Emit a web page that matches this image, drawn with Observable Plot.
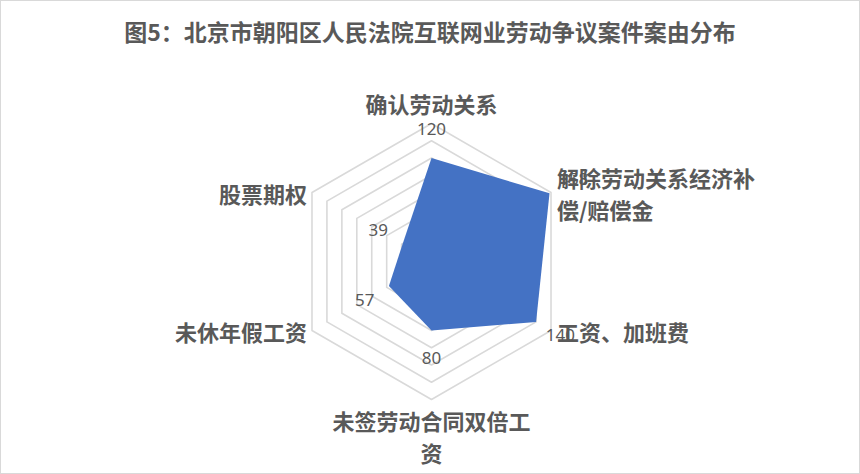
<!DOCTYPE html>
<html><head><meta charset="utf-8">
<script src="https://cdn.jsdelivr.net/npm/d3@7"></script>
<script src="https://cdn.jsdelivr.net/npm/@observablehq/plot@0.6"></script>
<style>
html,body{margin:0;padding:0;background:#fff;}
#chart{width:860px;height:474px;box-sizing:border-box;border:1px solid #d9d9d9;overflow:hidden;background:#fff;}
#title{height:60px;line-height:60px;text-align:center;font-family:"Noto Sans CJK SC","Noto Sans",sans-serif;font-weight:bold;font-size:23px;color:#595959;white-space:nowrap;}
#chart svg{display:block;}
</style></head><body>
<div id="chart"><div id="title"></div></div>
<script>
const titleText = "图5：北京市朝阳区人民法院互联网业劳动争议案件案由分布";
const categories = ["确认劳动关系","解除劳动关系经济补偿/赔偿金","工资、加班费","未签劳动合同双倍工资","未休年假工资","股票期权"];
const values = [120, 158, 140, 80, 57, 39];
const ringTicks = [20, 40, 60, 80, 100, 120, 140, 160];

document.getElementById("title").textContent = titleText;

const W = 858, H = 412;          // svg size
const cx = 430, cy = 200;        // radar centre in svg pixels
const maxR = 160;                // axis maximum
const k = 138 / maxR;            // pixels per unit
const n = categories.length;
const ang = i => i * 2 * Math.PI / n;
const px = (r, i) => r * Math.sin(ang(i));
const py = (r, i) => r * Math.cos(ang(i));

const rings = ringTicks.flatMap(t => d3.range(n + 1).map(j => ({ring: t, x: px(t, j % n), y: py(t, j % n)})));
const pts = values.map((v, i) => ({v, i, x: px(v, i), y: py(v, i)}));
const labelOffset = 28 / k;      // data labels sit 28px outside each point
const dataLabels = pts.map(d => ({text: String(d.v), x: px(d.v + labelOffset, d.i), y: py(d.v + labelOffset, d.i)}));

const wrap = (s, m) => s.match(new RegExp(".{1," + m + "}", "g")).join("\n");
const lh = 1.45, fs = 22;
const catMarks = categories.map((c, i) => {
  const s = Math.sin(ang(i)), co = Math.cos(ang(i));
  const text = wrap(c, 9);
  const lines = text.split("\n").length;
  let textAnchor = "middle", dx = 0, dy = 0;
  if (s > 0.1) { textAnchor = "start"; dx = 6; }
  else if (s < -0.1) { textAnchor = "end"; dx = -5; }
  else { dy = -Math.sign(co) * (20.5 + (lines - 1) * lh * fs / 2); }
  return Plot.text([{x: px(maxR, i), y: py(maxR, i), text}], {
    x: "x", y: "y", text: "text", textAnchor, dx, dy, lineHeight: lh,
    fontSize: fs, fontWeight: "bold", fill: "#595959",
    fontFamily: "'Noto Sans CJK SC', sans-serif"
  });
});

const chart = Plot.plot({
  width: W, height: H, margin: 0,
  x: {domain: [-cx / k, (W - cx) / k], axis: null},
  y: {domain: [-(H - cy) / k, cy / k], axis: null},
  marks: [
    Plot.line(rings, {x: "x", y: "y", z: "ring", stroke: "#d9d9d9", strokeWidth: 1.6}),
    Plot.line(pts, {x: "x", y: "y", curve: "linear-closed", fill: "#4472c4", stroke: "none"}),
    Plot.text(dataLabels, {x: "x", y: "y", text: "text", fontSize: 17, fill: "#595959",
      fontFamily: "'Noto Sans', 'Noto Sans CJK SC', sans-serif"}),
    ...catMarks
  ]
});
document.getElementById("chart").appendChild(chart);
</script>
</body></html>
